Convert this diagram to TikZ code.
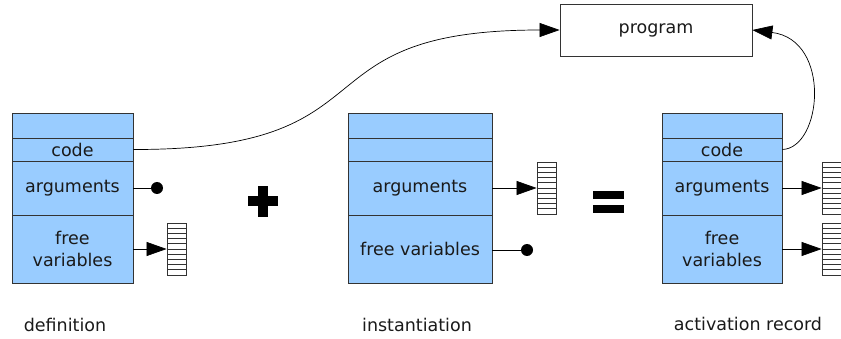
\documentclass[tikz,border=0pt]{standalone}
\usepackage{fontspec}
\setmainfont{DejaVu Sans}
\usetikzlibrary{arrows.meta,calc}
\definecolor{cellblue}{HTML}{99CCFF}
\definecolor{linec}{HTML}{333333}
\definecolor{textc}{HTML}{1A1A1A}
\tikzset{
  cell/.style={draw=linec, fill=cellblue, line width=0.8pt, inner sep=0pt, align=center,
    font=\fontsize{17.5}{22}\selectfont, text=textc},
  arr/.style={draw=linec, fill=white, line width=0.8pt, inner sep=0pt,
    minimum width=19pt, minimum height=52pt,
    path picture={\foreach \i in {1,...,9}{\draw[linec, line width=0.6pt]
      ($(path picture bounding box.north west)!\i/10!(path picture bounding box.south west)$) --
      ($(path picture bounding box.north east)!\i/10!(path picture bounding box.south east)$);}}},
  dotc/.style={circle, fill=black, inner sep=0pt, minimum size=12pt},
  conn/.style={draw=black, line width=0.7pt},
  tip/.style={conn, -{Triangle[length=20pt,width=14pt]}},
  lbl/.style={font=\fontsize{17.5}{22}\selectfont, text=textc},
  prog/.style={draw=linec, fill=white, line width=0.8pt, inner sep=0pt,
    minimum width=192pt, minimum height=52pt, font=\fontsize{17.5}{22}\selectfont, text=textc}
}
\begin{document}
\begin{tikzpicture}[x=1pt,y=-1pt]
\useasboundingbox (0,0) rectangle (841,339);

% program box
\node[prog] (pg) at (656,30) {program};

% definition stack
\node[cell, minimum width=121pt, minimum height=25pt] (d0) at (72.5,125.5) {};
\node[cell, minimum width=121pt, minimum height=23pt] (dcode) at (72.5,149.5) {code};
\node[cell, minimum width=121pt, minimum height=54pt] (dargs) at (72.5,188) {arguments};
\node[cell, minimum width=121pt, minimum height=68pt] (dfree) at (72.5,249) {free\\variables};
\node[dotc] (ddot) at (157,188) {};
\node[arr] (darr) at (176.5,249) {};
\draw[conn] (dargs.east) -- (ddot);
\draw[tip] (dfree.east) -- (darr.west);

% instantiation stack
\node[cell, minimum width=144pt, minimum height=25pt] (i0) at (420,125.5) {};
\node[cell, minimum width=144pt, minimum height=23pt] (i1) at (420,149.5) {};
\node[cell, minimum width=144pt, minimum height=54pt] (iargs) at (420,188) {arguments};
\node[cell, minimum width=144pt, minimum height=68pt] (ifree) at (420,249) {free variables};
\node[arr] (iarr) at (546.5,188) {};
\node[dotc] (idot) at (527,250) {};
\draw[tip] (iargs.east) -- (iarr.west);
\draw[conn] (ifree.east |- idot) -- (idot);

% activation record stack
\node[cell, minimum width=120pt, minimum height=25pt] (a0) at (722,125.5) {};
\node[cell, minimum width=120pt, minimum height=23pt] (acode) at (722,149.5) {code};
\node[cell, minimum width=120pt, minimum height=54pt] (aargs) at (722,188) {arguments};
\node[cell, minimum width=120pt, minimum height=68pt] (afree) at (722,249) {free\\variables};
\node[arr] (aarr1) at (831.5,188) {};
\node[arr] (aarr2) at (831.5,249) {};
\draw[tip] (aargs.east) -- (aarr1.west);
\draw[tip] (afree.east) -- (aarr2.west);

% curves to program
\draw[tip] (dcode.east) .. controls (400,150) and (290,30) .. (pg.west);
\draw[tip] (acode.east) .. controls (822,148) and (832,40) .. (pg.east);

% plus and equals
\fill[black] (248,196) rectangle (278,206);
\fill[black] (258,186) rectangle (268,217);
\fill[black] (593,191) rectangle (624,199);
\fill[black] (593,205) rectangle (624,213);

% labels
\node[lbl] (l1) at (65,325) {definition};
\node[lbl] (l2) at (417,325) {instantiation};
\node[lbl] (l3) at (748,324) {activation record};
\end{tikzpicture}
\end{document}
